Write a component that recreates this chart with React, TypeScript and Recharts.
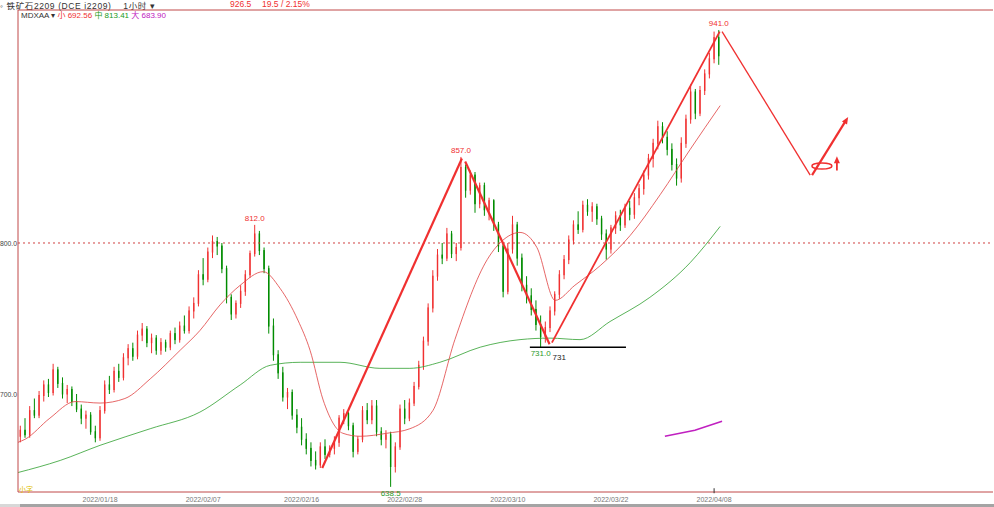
import React from "react";
import {
  ComposedChart,
  Bar,
  Line,
  XAxis,
  YAxis,
  ReferenceLine,
  ReferenceDot,
} from "recharts";

// 1-hour bars: open, high, low, close
const OHLC: number[][] = [
  [672, 679, 668, 676], [676, 684, 671, 673], [673, 692, 671, 689], [689, 697, 684, 686],
  [686, 702, 684, 699], [699, 709, 695, 706], [706, 710, 698, 701], [701, 720, 699, 716],
  [716, 718, 704, 707], [707, 711, 697, 700], [700, 706, 694, 703], [703, 705, 692, 695],
  [695, 700, 688, 690], [690, 693, 680, 684], [684, 689, 677, 686], [686, 688, 673, 675],
  [675, 679, 668, 671], [671, 692, 669, 689], [689, 709, 687, 706], [706, 712, 700, 703],
  [703, 718, 701, 715], [715, 720, 708, 711], [711, 727, 709, 724], [724, 733, 719, 730],
  [730, 734, 722, 725], [725, 742, 723, 739], [739, 747, 735, 743], [743, 745, 731, 734],
  [734, 740, 727, 737], [737, 739, 726, 729], [729, 737, 726, 734], [734, 736, 728, 731],
  [731, 742, 729, 740], [740, 744, 733, 736], [736, 748, 734, 745], [745, 752, 740, 742],
  [742, 758, 740, 755], [755, 764, 750, 760], [760, 782, 758, 779], [779, 790, 772, 776],
  [776, 797, 774, 794], [794, 805, 790, 801], [801, 804, 792, 798], [798, 800, 780, 783],
  [783, 785, 760, 764], [764, 766, 749, 753], [753, 762, 750, 760], [760, 772, 757, 768],
  [768, 782, 765, 779], [779, 795, 777, 793], [793, 812, 791, 806], [806, 808, 792, 795],
  [795, 797, 780, 783], [783, 785, 740, 745], [745, 750, 722, 726], [726, 729, 710, 714],
  [714, 718, 695, 698], [698, 704, 690, 701], [701, 703, 683, 686], [686, 690, 674, 678],
  [678, 684, 666, 670], [670, 674, 660, 664], [664, 668, 652, 656], [656, 662, 650, 653],
  [653, 668, 651, 665], [665, 670, 657, 660], [660, 666, 658, 664], [664, 672, 660, 668],
  [668, 686, 665, 684], [684, 690, 680, 687], [687, 688, 676, 679], [679, 681, 658, 662],
  [662, 672, 660, 670], [670, 692, 668, 689], [689, 694, 680, 683], [683, 696, 680, 692],
  [692, 696, 672, 675], [675, 678, 666, 670], [670, 676, 664, 673], [673, 675, 638.5, 652],
  [652, 668, 648, 665], [665, 693, 663, 690], [690, 696, 680, 684], [684, 697, 682, 694],
  [694, 708, 692, 705], [705, 722, 703, 719], [719, 738, 716, 735], [735, 760, 732, 757],
  [757, 782, 754, 778], [778, 796, 775, 792], [792, 800, 786, 790], [790, 810, 788, 806],
  [806, 808, 790, 793], [793, 800, 788, 797], [797, 857, 795, 850], [850, 852, 830, 835],
  [835, 848, 832, 845], [845, 847, 820, 826], [826, 840, 823, 838], [838, 840, 818, 822],
  [822, 830, 815, 828], [828, 829, 808, 812], [812, 814, 794, 798], [798, 800, 764, 768],
  [768, 800, 766, 796], [796, 818, 793, 812], [812, 814, 785, 790], [790, 793, 768, 772],
  [772, 778, 760, 765], [765, 770, 752, 756], [756, 762, 742, 746], [746, 752, 731, 738],
  [738, 748, 734, 744], [744, 758, 741, 755], [755, 768, 752, 766], [766, 782, 763, 779],
  [779, 792, 776, 789], [789, 805, 786, 802], [802, 815, 799, 812], [812, 821, 806, 809],
  [809, 828, 807, 825], [825, 829, 818, 821], [821, 827, 814, 824], [824, 826, 812, 816],
  [816, 818, 802, 806], [806, 809, 789, 796], [796, 812, 793, 810], [810, 821, 806, 818],
  [818, 822, 808, 812], [812, 826, 810, 823], [823, 828, 815, 819], [819, 833, 816, 830],
  [830, 839, 825, 836], [836, 848, 832, 845], [845, 859, 842, 856], [856, 869, 850, 866],
  [866, 881, 862, 877], [877, 880, 866, 870], [870, 874, 858, 862], [862, 866, 848, 852],
  [852, 856, 838, 843], [843, 870, 840, 866], [866, 885, 863, 882], [882, 905, 879, 900],
  [900, 902, 882, 886], [886, 904, 884, 901], [901, 915, 898, 912], [912, 926, 909, 922],
  [922, 940, 919, 936], [936, 941, 918, 924],
];

const DATE_TICKS = [17, 39, 60, 82, 104, 126, 148]; // bar under each date label
const DATE_LABELS = [
  "2022/01/18",
  "2022/02/07",
  "2022/02/16",
  "2022/02/28",
  "2022/03/10",
  "2022/03/22",
  "2022/04/08",
];
const PRICE_TICKS = [700, 800];

// moving averages: [bar position, value]
const MA_SMALL = [
  [0, 668], [1.5, 670], [6.8, 684], [12.2, 695], [17.5, 694], [22.8, 697], [28.2, 710],
  [34.6, 729], [38.8, 742], [43.1, 759], [47.4, 772], [52.3, 781], [55.9, 770], [59.7, 749],
  [62.3, 729], [65.1, 696], [69.3, 674], [73.0, 672], [78.7, 674], [83.6, 677], [88.5, 689],
  [93.2, 736], [100.1, 789], [103.9, 803], [107.1, 807], [110.7, 797], [114.6, 762],
  [118.8, 772], [124.2, 785], [130.6, 805], [137.0, 832], [143.4, 862], [149.8, 891],
];
const MA_MID = [
  [0, 648], [9.0, 656], [17.5, 666], [28.2, 677], [38.8, 688], [47.4, 706], [53.8, 719],
  [60.2, 721], [68.7, 721], [77.2, 717], [83.6, 717], [90.0, 721], [98.6, 731], [107.1, 736],
  [113.5, 737], [119.9, 736], [126.3, 748], [134.8, 764], [143.4, 787], [149.8, 811],
];
const MA_BIG = [[138.0, 672], [144.4, 676], [150.2, 682]];

// bars whose high / low got a price tag
const HIGH_TAGS = [50, 94, 149];
const LOW_TAGS = [111, 79];

// hand drawn trend lines: [bar position, price] -> [bar position, price]
const TREND_LINES = [
  { from: [64.9, 651], to: [94.7, 856], width: 2.2 },
  { from: [95.4, 854], to: [113.4, 733], width: 2.2 },
  { from: [113.9, 734], to: [149.7, 940], width: 1.8 },
  { from: [150.2, 940], to: [169.0, 845], width: 1.3 },
  { from: [169.4, 845], to: [176.6, 881], width: 2.2 },
  { from: [174.7, 848], to: [174.7, 855], width: 1.8 },
];
const SUPPORT = { from: 109.2, to: 129.7, price: 731, label: "731" };

const X_MAX = 208;
const Y_MIN = 635.1;
const Y_MAX = 954.3;
const RED = "#f03030";
const GREEN = "#008c00";
const FRAME = "#c04848";
const FONT = "'Liberation Sans', Arial, 'Noto Sans CJK SC', sans-serif";

const candles = OHLC.map(([o, h, l, c], i) => ({ x: i + 0.5, o, h, l, c, range: [l, h] }));
const toPts = (arr: number[][]) => arr.map(([x, v]) => ({ x, v }));

const Candle = (p: any) => {
  const { x, y, width, height, payload } = p;
  if (!payload || height == null) return null;
  const { o, h, l, c } = payload;
  const top = Math.min(y, y + height);
  const span = Math.abs(height);
  const k = h === l ? 0 : span / (h - l);
  const py = (v: number) => top + (h - v) * k;
  const up = c >= o;
  const color = up ? RED : GREEN;
  const cx = x + width / 2;
  const bt = py(Math.max(o, c));
  const bb = py(Math.min(o, c));
  return (
    <g>
      <line x1={cx} x2={cx} y1={top} y2={top + span} stroke={color} strokeWidth={1} />
      <rect
        x={x}
        y={bt}
        width={width}
        height={Math.max(1, bb - bt)}
        fill={up ? "#fff" : color}
        stroke={color}
        strokeWidth={1}
      />
    </g>
  );
};

const tag = (text: string, color: string, dy: number) => (p: any) => (
  <text x={p.cx} y={p.cy + dy} textAnchor="middle" fontSize={8} fill={color} fontFamily={FONT}>
    {text}
  </text>
);

const arrowHead = (angle: number) => (p: any) => (
  <polygon
    points="0,0 -7,-3 -7,3"
    fill={RED}
    transform={`translate(${p.cx},${p.cy}) rotate(${angle})`}
  />
);

export default function App() {
  return (
    <div
      style={{
        position: "absolute",
        left: 0,
        top: 0,
        width: 994,
        height: 507,
        background: "#fff",
        fontFamily: FONT,
        overflow: "hidden",
      }}
    >
      <div style={{ position: "absolute", left: 0, top: -1, fontSize: 8.5, color: "#333", whiteSpace: "nowrap", letterSpacing: 0.6 }}>
        ◦ 铁矿石2209 (DCE i2209)&nbsp;&nbsp;&nbsp; 1小时 ▾
      </div>
      <div style={{ position: "absolute", left: 230, top: -1, fontSize: 8.5, color: RED }}>926.5</div>
      <div style={{ position: "absolute", left: 262, top: -1, fontSize: 8.5, color: RED }}>19.5 / 2.15%</div>
      <div style={{ position: "absolute", left: 21, top: 9, fontSize: 8, whiteSpace: "nowrap" }}>
        <span style={{ color: "#333" }}>MDXAA ▾ </span>
        <span style={{ color: RED }}>小 692.56 </span>
        <span style={{ color: "#1a9a1a" }}>中 813.41 </span>
        <span style={{ color: "#c020c0" }}>大 683.90</span>
      </div>

      <ComposedChart
        width={994}
        height={507}
        data={candles}
        margin={{ top: 10, right: 1, bottom: 0, left: 0 }}
      >
        <XAxis
          dataKey="x"
          type="number"
          domain={[0, X_MAX]}
          allowDataOverflow
          ticks={DATE_TICKS.map((t) => t + 0.5)}
          height={15}
          axisLine={{ stroke: FRAME }}
          tickLine={false}
          tick={({ x, payload }: any) => (
            <text x={x} y={502} textAnchor="middle" fontSize={7} fill="#777" fontFamily={FONT}>
              {DATE_LABELS[DATE_TICKS.indexOf(payload.value - 0.5)]}
            </text>
          )}
        />
        <YAxis
          type="number"
          domain={[Y_MIN, Y_MAX]}
          allowDataOverflow
          ticks={PRICE_TICKS}
          width={18}
          axisLine={{ stroke: FRAME }}
          tickLine={false}
          tick={({ y, payload }: any) => (
            <text x={17} y={y + 3} textAnchor="end" fontSize={6.8} fill="#444" fontFamily={FONT}>
              {payload.value.toFixed(1)}
            </text>
          )}
        />
        <ReferenceLine y={Y_MAX} stroke={FRAME} />
        <ReferenceLine y={800} stroke="#d04040" strokeDasharray="2 3" />

        <Line data={toPts(MA_MID)} dataKey="v" type="monotone" stroke="#2ea02e" strokeWidth={0.8} dot={false} isAnimationActive={false} />
        <Line data={toPts(MA_SMALL)} dataKey="v" type="monotone" stroke="#e04040" strokeWidth={0.8} dot={false} isAnimationActive={false} />
        <Line data={toPts(MA_BIG)} dataKey="v" type="linear" stroke="#c020c0" strokeWidth={1.6} dot={false} isAnimationActive={false} />

        <Bar dataKey="range" barSize={3} shape={Candle} isAnimationActive={false} />

        {TREND_LINES.map((t, i) => (
          <ReferenceLine
            key={i}
            segment={[{ x: t.from[0], y: t.from[1] }, { x: t.to[0], y: t.to[1] }]}
            stroke={RED}
            strokeWidth={t.width}
            ifOverflow="visible"
          />
        ))}
        <ReferenceLine
          segment={[{ x: SUPPORT.from, y: SUPPORT.price }, { x: SUPPORT.to, y: SUPPORT.price }]}
          stroke="#000"
          strokeWidth={1.6}
        />
        <ReferenceDot x={(SUPPORT.from + SUPPORT.to) / 2 - 4} y={SUPPORT.price} r={0} shape={tag(SUPPORT.label, "#222", 13)} />
        <ReferenceDot x={148.5} y={Y_MIN + 2.5} r={0} shape={(p: any) => <line x1={p.cx} x2={p.cx} y1={p.cy} y2={p.cy + 5} stroke="#333" />} />

        <ReferenceDot x={171.5} y={851} r={0} ifOverflow="visible"
          shape={(p: any) => <ellipse cx={p.cx} cy={p.cy} rx={10} ry={3} fill="none" stroke={RED} strokeWidth={1.5} />} />
        <ReferenceDot x={177.1} y={883.4} r={0} ifOverflow="visible" shape={arrowHead(-58.6)} />
        <ReferenceDot x={174.7} y={857.5} r={0} ifOverflow="visible" shape={arrowHead(-90)} />

        {HIGH_TAGS.map((i) => (
          <ReferenceDot key={"h" + i} x={i + 0.5} y={OHLC[i][1]} r={0} ifOverflow="visible"
            shape={tag(OHLC[i][1].toFixed(1), RED, -4)} />
        ))}
        {LOW_TAGS.map((i) => (
          <ReferenceDot key={"l" + i} x={i + 0.5} y={OHLC[i][2]} r={0} ifOverflow="visible"
            shape={tag(OHLC[i][2].toFixed(1), "#2a9a2a", 9)} />
        ))}
      </ComposedChart>

      <div style={{ position: "absolute", left: 19, top: 484, fontSize: 7, color: "#e0c000" }}>小字</div>
      <div style={{ position: "absolute", left: 0, top: 504, width: 20, height: 3, background: "#d8d8d8" }} />
      <div style={{ position: "absolute", left: 20, top: 504, width: 974, height: 3, background: "#a4a4a4" }} />
    </div>
  );
}
